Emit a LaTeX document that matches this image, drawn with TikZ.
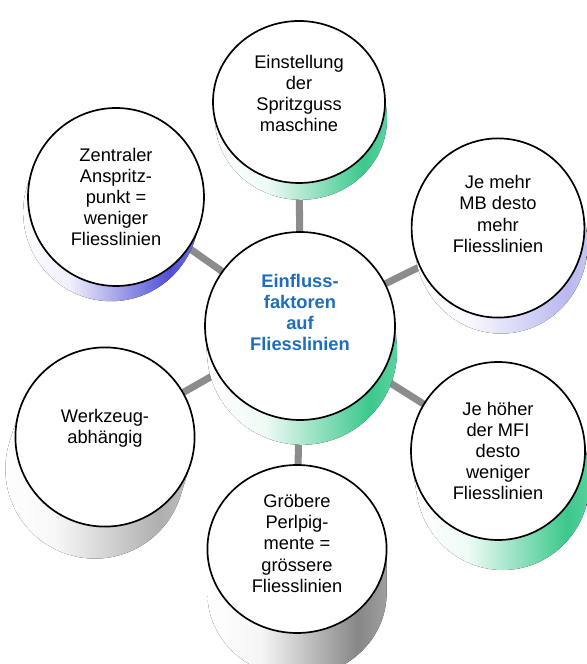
\documentclass[tikz,border=0pt]{standalone}
\usepackage{fontspec}
\setmainfont{Liberation Sans}
\usetikzlibrary{shapes.geometric}

\definecolor{mint}{RGB}{60,200,140}
\definecolor{indigo}{RGB}{80,80,215}
\definecolor{lavender}{RGB}{185,185,240}
\definecolor{ash}{RGB}{175,175,175}
\definecolor{slate}{RGB}{135,135,135}
\definecolor{spoke}{RGB}{140,140,140}
\definecolor{titleblue}{RGB}{30,110,190}
\colorlet{drumcol}{mint}

\pgfdeclarehorizontalshading[drumcol]{drumside}{100bp}{color(0bp)=(white); color(25bp)=(white);
  color(40bp)=(drumcol!8!white); color(67bp)=(drumcol); color(75bp)=(drumcol!80!white);
  color(100bp)=(drumcol!80!white)}

\pgfdeclarelayer{bg}
\pgfdeclarelayer{shade}
\pgfsetlayers{bg,shade,main}

% extruded side under a bubble: node, x radius, y radius, dx, dy, colour
\newcommand{\drum}[6]{%
  \pgfmathsetmacro{\tang}{atan2(-(#3)*(#4),(#2)*(#5))}%
  \colorlet{drumcol}{#6}%
  \begin{pgfonlayer}{shade}
    \fill[shading=drumside] (#1.center) ++(\tang:#2 and #3) -- ++(#4,#5)
      arc[start angle=\tang, end angle=\tang+180, x radius=#2, y radius=#3]
      -- ++({-(#4)},{-(#5)}) -- cycle;
  \end{pgfonlayer}}

\begin{document}
\begin{tikzpicture}[
  bubble/.style={ellipse, draw, line width=1.2pt, fill=white, inner sep=0pt, outer sep=0pt},
  txt/.style={align=center, font=\fontsize{13}{15}\selectfont},
  hubtxt/.style={txt, font=\fontsize{13}{15}\selectfont\bfseries, text=titleblue},
  link/.style={draw=spoke, line width=5pt}]
\useasboundingbox (0,0) rectangle (14.65,16.6);

\node[bubble, minimum width=4.75cm, minimum height=4.7cm] (hub) at (7.5,8.45) {};
\node[bubble, minimum width=4.3cm, minimum height=4.05cm] (ein) at (7.475,14.05) {};
\node[bubble, minimum width=4.4cm, minimum height=4.45cm] (zen) at (2.9,11.675) {};
\node[bubble, minimum width=4.32cm, minimum height=4.48cm] (mb) at (12.45,10.9) {};
\node[bubble, minimum width=4.35cm, minimum height=4.45cm] (mfi) at (12.45,5.325) {};
\node[bubble, minimum width=4.48cm, minimum height=4.48cm] (wzg) at (2.625,5.675) {};
\node[bubble, minimum width=4.48cm, minimum height=4.2cm] (pig) at (7.425,2.875) {};

\drum{hub}{2.375}{2.35}{0.05}{-0.62}{mint}
\drum{ein}{2.15}{2.025}{0.05}{-0.42}{mint}
\drum{zen}{2.2}{2.225}{-0.12}{-0.38}{indigo}
\drum{mb}{2.16}{2.24}{0.08}{-0.4}{lavender}
\drum{mfi}{2.175}{2.225}{0.12}{-0.75}{mint}
\drum{wzg}{2.24}{2.24}{-0.25}{-0.8}{ash}
\drum{pig}{2.24}{2.1}{0}{-1.1}{slate}

\node[hubtxt] (hub-t) at ([yshift=0.33cm]hub.center) {Einfluss-\\faktoren\\auf\\Fliesslinien};
\node[txt] (ein-t) at ([yshift=0.22cm]ein.center) {Einstellung\\der\\Spritzguss\\maschine};
\node[txt] (zen-t) at (zen.center) {Zentraler\\Anspritz-\\punkt =\\weniger\\Fliesslinien};
\node[txt] (mb-t) at ([yshift=0.35cm]mb.center) {Je mehr\\MB desto\\mehr\\Fliesslinien};
\node[txt] (mfi-t) at (mfi.center) {Je höher\\der MFI\\desto\\weniger\\Fliesslinien};
\node[txt] (wzg-t) at ([yshift=0.22cm]wzg.center) {Werkzeug-\\abhängig};
\node[txt] (pig-t) at ([yshift=0.14cm]pig.center) {Gröbere\\Perlpig-\\mente =\\grössere\\Fliesslinien};

\begin{pgfonlayer}{bg}
\draw[link] (hub) -- (ein);
\draw[link] (hub) -- (zen);
\draw[link] (hub) -- (mb);
\draw[link] (hub) -- (mfi);
\draw[link] (hub) -- (wzg);
\draw[link] (hub) -- (pig);
\end{pgfonlayer}
\end{tikzpicture}
\end{document}
